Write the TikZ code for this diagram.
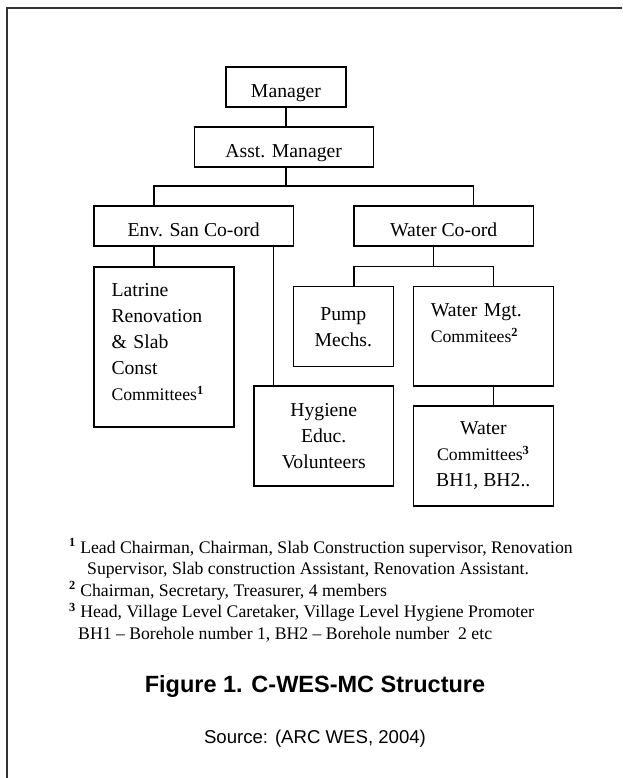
\documentclass[tikz,border=0pt]{standalone}
\usepackage{fontspec}
\setmainfont{Liberation Serif}
\setsansfont{Liberation Sans}
\usepackage{tikz}
\usetikzlibrary{calc}
\newcommand{\boxfont}{\fontsize{19.7}{26}\selectfont}
\newcommand{\smallbox}{\fontsize{17.7}{26}\selectfont}
\newcommand{\notefont}{\fontsize{17.7}{21.5}\selectfont}
\newcommand{\supmark}[1]{\textsuperscript{\textbf{#1}}}
\tikzstyle{unit}=[draw,rectangle,line width=1.2pt,inner sep=0pt,font=\boxfont]
\tikzstyle{head}=[unit,minimum height=40pt,text height=21.5pt,text depth=0pt]
\tikzstyle{group}=[unit,align=center]
\tikzstyle{list}=[unit,align=left,text width=105pt]
\tikzstyle{note}=[inner sep=0pt,anchor=base west,font=\notefont]

\begin{document}
\begin{tikzpicture}
	[x=1pt,y=-1pt]
	\tikzstyle{link}=[line width=1.2pt];
	\tikzstyle{frame}=[line width=2pt,black!80];

	\useasboundingbox (0,0) rectangle (622,778);
	\draw[frame] (7,778) -- (7,8.5) -- (622,8.5);

	\node (mgr) [head,minimum width=120pt] at (286,87) {Manager};
	\node (asst) [head,minimum width=179pt] at (283.7,147) {Asst. Manager};
	\node (env) [head,minimum width=199.3pt] at (193.7,226) {Env. San Co-ord};
	\node (water) [head,minimum width=179.3pt] at (443.7,226) {Water Co-ord};
	\node (lat) [list,minimum width=140pt,minimum height=160pt,text depth=114pt] at (164,347)
		{Latrine\\Renovation\\\& Slab\\Const\\{\smallbox Committees\supmark{1}}};
	\node (hyg) [group,minimum width=139.3pt,minimum height=100pt] at (323.7,436)
		{Hygiene\\Educ.\\Volunteers};
	\node (pump) [group,minimum width=100pt,minimum height=80pt] at (343.3,326.7)
		{Pump\\Mechs.};
	\node (wmgt) [list,minimum width=140pt,minimum height=99.3pt,text depth=52.6pt] at (483.3,336.3)
		{Water Mgt.\\{\smallbox Commitees\supmark{2}}};
	\node (wcom) [group,minimum width=140pt,minimum height=100pt] at (483.3,456)
		{Water\\{\smallbox Committees\supmark{3}}\\BH1, BH2..};

	\coordinate (xl) at (154,186);
	\coordinate (xr) at (473.3,186);
	\coordinate (xh) at (273.7,246);
	\coordinate (xw) at (433.3,266.7);
	\coordinate (xp) at (354,266.7);
	\coordinate (xm) at (493.3,266.7);
	\draw[link] (mgr.south) -- (mgr.south |- asst.north);
	\draw[link] (asst.south -| mgr.south) -- (mgr.south |- xl);
	\draw[link] (xl |- env.north) -- (xl) -- (xr) -- (xr |- water.north);
	\draw[link] (xl |- env.south) -- (xl |- lat.north);
	\draw[link] (xh |- env.south) -- (xh |- hyg.north);
	\draw[link] (xw |- water.south) -- (xw);
	\draw[link] (xp |- pump.north) -- (xp) -- (xm) -- (xm |- wmgt.north);
	\draw[link] (xm |- wmgt.south) -- (xm |- wcom.north);

	\node (fn1) [note] at (69,553) {\supmark{1} Lead Chairman, Chairman, Slab Construction supervisor, Renovation};
	\node (fn1b) [note] at ($(fn1.base west)+(18,21.5)$) {Supervisor, Slab construction Assistant, Renovation Assistant.};
	\node (fn2) [note] at ($(fn1b.base west)+(-18,21.5)$) {\supmark{2} Chairman, Secretary, Treasurer, 4 members};
	\node (fn3) [note] at ($(fn2.base west)+(0,21.5)$) {\supmark{3} Head, Village Level Caretaker, Village Level Hygiene Promoter};
	\node (fn3b) [note] at ($(fn3.base west)+(9,21.5)$) {BH1 -- Borehole number 1, BH2 -- Borehole number\ \ 2 etc};

	\node (cap) [anchor=base,inner sep=0pt,font=\sffamily\bfseries\fontsize{23.5}{28}\selectfont] at (315,692) {Figure 1. C-WES-MC Structure};
	\node (src) [anchor=base,inner sep=0pt,font=\sffamily\fontsize{18.6}{22}\selectfont] at (315,743) {Source: (ARC WES, 2004)};
\end{tikzpicture}
\end{document}
